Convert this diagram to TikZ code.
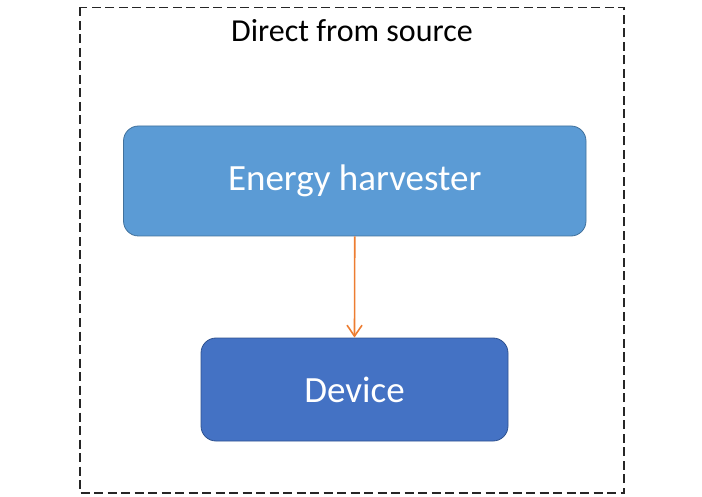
\documentclass[tikz,border=0pt]{standalone}
\usepackage{fontspec}
\setmainfont{Carlito}
\usetikzlibrary{arrows.meta}
\definecolor{harvfill}{HTML}{5B9BD5}
\definecolor{harvline}{HTML}{41719C}
\definecolor{devfill}{HTML}{4472C4}
\definecolor{devline}{HTML}{2F528F}
\definecolor{arrorange}{HTML}{ED7D31}
\tikzset{
  blockbox/.style={rounded corners=15pt, line width=0.8pt, text=white, font=\fontsize{37}{40}\selectfont, inner sep=0pt},
  frame/.style={draw=black!85, line width=1.2pt, dash pattern=on 9pt off 4.5pt},
  flow/.style={draw=arrorange, line width=1.6pt, -{Straight Barb[length=11pt,width=15pt,line width=1.6pt]}}
}
\begin{document}
\begin{tikzpicture}[x=1pt,y=-1pt]
\useasboundingbox (0,0) rectangle (702,497);
\draw[frame] (80,7.5) rectangle (624,493);
\node[font=\fontsize{32}{34}\selectfont] (title) at (352,31) {Direct from source};
\node[blockbox, fill=harvfill, draw=harvline, minimum width=462.5pt, minimum height=110pt] (harv) at (354.75,181) {Energy harvester};
\node[blockbox, fill=devfill, draw=devline, minimum width=307pt, minimum height=103pt] (dev) at (354.5,389.5) {Device};
\draw[flow] (harv.south) -- (dev.north);
\end{tikzpicture}
\end{document}
